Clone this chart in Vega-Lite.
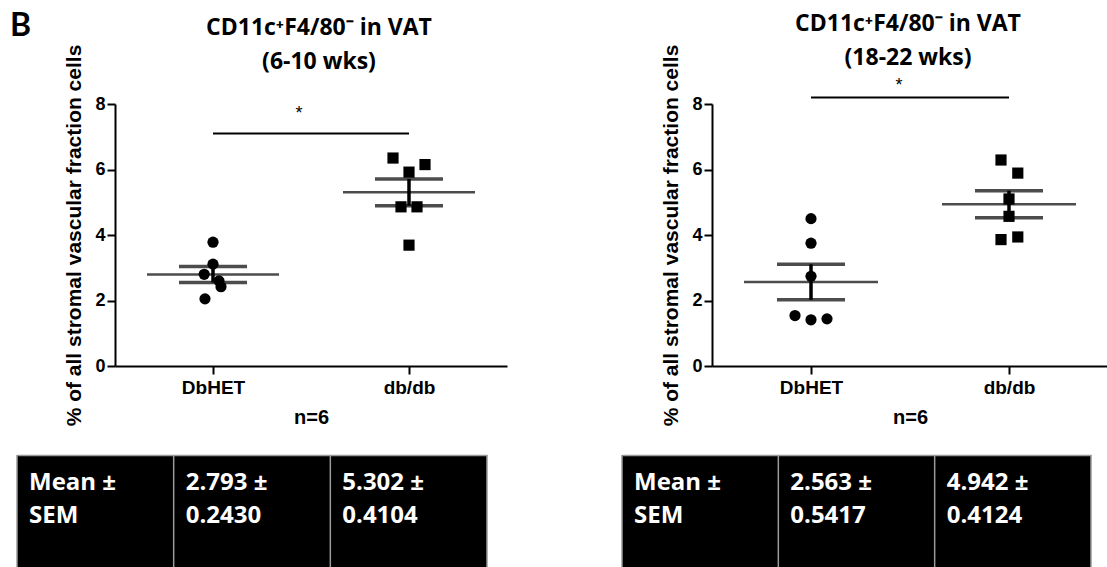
{
  "$schema": "https://vega.github.io/schema/vega-lite/v6.json",
  "background": "white",
  "padding": {"left": 10, "top": 10, "right": 0, "bottom": 0},
  "datasets": {
    "pts": [
      {"panel": "early", "group": "DbHET", "value": 3.78, "jit": 0},
      {"panel": "early", "group": "DbHET", "value": 3.11, "jit": 0},
      {"panel": "early", "group": "DbHET", "value": 2.80, "jit": -1.1},
      {"panel": "early", "group": "DbHET", "value": 2.60, "jit": 0.75},
      {"panel": "early", "group": "DbHET", "value": 2.42, "jit": 1},
      {"panel": "early", "group": "DbHET", "value": 2.05, "jit": -1},
      {"panel": "early", "group": "db/db", "value": 6.35, "jit": -2},
      {"panel": "early", "group": "db/db", "value": 6.15, "jit": 2},
      {"panel": "early", "group": "db/db", "value": 5.92, "jit": 0},
      {"panel": "early", "group": "db/db", "value": 4.86, "jit": -1},
      {"panel": "early", "group": "db/db", "value": 4.86, "jit": 1},
      {"panel": "early", "group": "db/db", "value": 3.69, "jit": 0},
      {"panel": "late", "group": "DbHET", "value": 4.50, "jit": 0},
      {"panel": "late", "group": "DbHET", "value": 3.75, "jit": 0},
      {"panel": "late", "group": "DbHET", "value": 2.74, "jit": 0},
      {"panel": "late", "group": "DbHET", "value": 1.54, "jit": -2},
      {"panel": "late", "group": "DbHET", "value": 1.41, "jit": 0},
      {"panel": "late", "group": "DbHET", "value": 1.44, "jit": 2},
      {"panel": "late", "group": "db/db", "value": 6.29, "jit": -1},
      {"panel": "late", "group": "db/db", "value": 5.89, "jit": 1.1},
      {"panel": "late", "group": "db/db", "value": 5.10, "jit": 0},
      {"panel": "late", "group": "db/db", "value": 4.57, "jit": 0},
      {"panel": "late", "group": "db/db", "value": 3.86, "jit": -1},
      {"panel": "late", "group": "db/db", "value": 3.94, "jit": 1.1}
    ],
    "sum": [
      {"panel": "early", "group": "DbHET", "mean": 2.793, "sem": 0.2430},
      {"panel": "early", "group": "db/db", "mean": 5.302, "sem": 0.4104},
      {"panel": "late", "group": "DbHET", "mean": 2.563, "sem": 0.5417},
      {"panel": "late", "group": "db/db", "mean": 4.942, "sem": 0.4124}
    ],
    "sig": [
      {"panel": "early", "group": "DbHET", "to": "db/db", "y": 7.1, "star": 7.7, "label": "*"},
      {"panel": "late", "group": "DbHET", "to": "db/db", "y": 8.2, "star": 8.55, "label": "*"}
    ],
    "tbl": [
      {"t": "early", "col": "c1", "text": "Mean  ±\nSEM"},
      {"t": "early", "col": "c2", "text": "2.793 ±\n0.2430"},
      {"t": "early", "col": "c3", "text": "5.302 ±\n0.4104"},
      {"t": "late", "col": "c1", "text": "Mean ±\nSEM"},
      {"t": "late", "col": "c2", "text": "2.563 ±\n0.5417"},
      {"t": "late", "col": "c3", "text": "4.942 ±\n0.4124"}
    ]
  },
  "config": {
    "view": {"stroke": null},
    "title": {"font": "Open Sans", "fontSize": 23, "fontWeight": "bold", "color": "black", "lineHeight": 34, "anchor": "middle"},
    "axis": {
      "grid": false,
      "domainColor": "black", "domainWidth": 2,
      "tickColor": "black", "tickWidth": 2, "tickSize": 8,
      "labelFont": "Liberation Sans", "labelFontWeight": "bold", "labelColor": "black",
      "titleFont": "Liberation Sans", "titleFontWeight": "bold", "titleColor": "black"
    },
    "axisY": {"labelFontSize": 18, "labelPadding": 2, "titleFontSize": 21, "titlePadding": 10, "tickCount": 5},
    "axisX": {"labelFontSize": 19, "labelPadding": 4, "titleFontSize": 20, "titlePadding": 10, "labelAngle": 0}
  },
  "spacing": 27,
  "vconcat": [
    {
      "spacing": 31,
      "hconcat": [
        {
          "width": 14, "height": 14,
          "data": {"values": [{"label": "B"}]},
          "mark": {"type": "text", "align": "left", "baseline": "top", "dx": -14, "dy": -100, "font": "Lato", "fontSize": 32, "fontWeight": "bold", "color": "black"},
          "encoding": {"text": {"field": "label"}}
        },
        {
          "spacing": 153,
          "hconcat": [
            {
              "width": 392, "height": 262,
              "title": {"text": ["CD11c⁺F4/80⁻ in VAT", "(6-10 wks)"], "offset": -30, "dx": 8},
              "encoding": {
                "x": {"field": "group", "type": "nominal", "scale": {"type": "point", "padding": 0.5, "domain": ["DbHET", "db/db"]}, "title": "n=6"}
              },
              "layer": [
                {
                  "data": {"name": "pts"},
                  "transform": [{"filter": "datum.panel === 'early'"}],
                  "mark": {"type": "point", "filled": true, "size": 125, "opacity": 1, "color": "black"},
                  "encoding": {
                    "xOffset": {"field": "jit", "type": "quantitative", "scale": {"domain": [-2, 2], "range": [-16, 16]}},
                    "y": {"field": "value", "type": "quantitative", "scale": {"domain": [0, 8], "nice": false}, "title": "% of all stromal vascular fraction cells"},
                    "shape": {"field": "group", "type": "nominal", "scale": {"domain": ["DbHET", "db/db"], "range": ["circle", "square"]}, "legend": null}
                  }
                },
                {
                  "data": {"name": "sum"},
                  "transform": [{"filter": "datum.panel === 'early'"}],
                  "mark": {"type": "tick", "size": 132, "thickness": 2.5, "color": "black"},
                  "encoding": {
                    "y": {"field": "mean", "type": "quantitative", "title": "% of all stromal vascular fraction cells"}
                  }
                },
                {
                  "data": {"name": "sum"},
                  "transform": [{"filter": "datum.panel === 'early'"}],
                  "mark": {"type": "errorbar", "thickness": 3.5, "color": "black", "ticks": {"size": 68, "thickness": 3.5, "color": "black"}},
                  "encoding": {
                    "y": {"field": "mean", "type": "quantitative", "title": "% of all stromal vascular fraction cells"},
                    "yError": {"field": "sem"}
                  }
                },
                {
                  "data": {"name": "sig"},
                  "transform": [{"filter": "datum.panel === 'early'"}],
                  "mark": {"type": "rule", "strokeWidth": 2, "color": "black"},
                  "encoding": {
                    "x2": {"field": "to"},
                    "y": {"field": "y", "type": "quantitative", "title": "% of all stromal vascular fraction cells"}
                  }
                },
                {
                  "data": {"name": "sig"},
                  "transform": [{"filter": "datum.panel === 'early'"}],
                  "mark": {"type": "text", "dx": 86, "fontSize": 18, "font": "Liberation Sans", "baseline": "middle", "color": "black"},
                  "encoding": {
                    "y": {"field": "star", "type": "quantitative", "title": "% of all stromal vascular fraction cells"},
                    "text": {"field": "label"}
                  }
                }
              ]
            },
            {
              "width": 396, "height": 262,
              "title": {"text": ["CD11c⁺F4/80⁻ in VAT", "(18-22 wks)"], "offset": -26, "dx": -2},
              "encoding": {
                "x": {"field": "group", "type": "nominal", "scale": {"type": "point", "padding": 0.5, "domain": ["DbHET", "db/db"]}, "title": "n=6"}
              },
              "layer": [
                {
                  "data": {"name": "pts"},
                  "transform": [{"filter": "datum.panel === 'late'"}],
                  "mark": {"type": "point", "filled": true, "size": 125, "opacity": 1, "color": "black"},
                  "encoding": {
                    "xOffset": {"field": "jit", "type": "quantitative", "scale": {"domain": [-2, 2], "range": [-16, 16]}},
                    "y": {"field": "value", "type": "quantitative", "scale": {"domain": [0, 8], "nice": false}, "title": "% of all stromal vascular fraction cells"},
                    "shape": {"field": "group", "type": "nominal", "scale": {"domain": ["DbHET", "db/db"], "range": ["circle", "square"]}, "legend": null}
                  }
                },
                {
                  "data": {"name": "sum"},
                  "transform": [{"filter": "datum.panel === 'late'"}],
                  "mark": {"type": "tick", "size": 134, "thickness": 2.5, "color": "black"},
                  "encoding": {
                    "y": {"field": "mean", "type": "quantitative", "title": "% of all stromal vascular fraction cells"}
                  }
                },
                {
                  "data": {"name": "sum"},
                  "transform": [{"filter": "datum.panel === 'late'"}],
                  "mark": {"type": "errorbar", "thickness": 3.5, "color": "black", "ticks": {"size": 68, "thickness": 3.5, "color": "black"}},
                  "encoding": {
                    "y": {"field": "mean", "type": "quantitative", "title": "% of all stromal vascular fraction cells"},
                    "yError": {"field": "sem"}
                  }
                },
                {
                  "data": {"name": "sig"},
                  "transform": [{"filter": "datum.panel === 'late'"}],
                  "mark": {"type": "rule", "strokeWidth": 2, "color": "black"},
                  "encoding": {
                    "x2": {"field": "to"},
                    "y": {"field": "y", "type": "quantitative", "title": "% of all stromal vascular fraction cells"}
                  }
                },
                {
                  "data": {"name": "sig"},
                  "transform": [{"filter": "datum.panel === 'late'"}],
                  "mark": {"type": "text", "dx": 88, "fontSize": 18, "font": "Liberation Sans", "baseline": "middle", "color": "black"},
                  "encoding": {
                    "y": {"field": "star", "type": "quantitative", "title": "% of all stromal vascular fraction cells"},
                    "text": {"field": "label"}
                  }
                }
              ]
            }
          ]
        }
      ]
    },
    {
      "spacing": 133,
      "hconcat": [
        {
          "width": 470, "height": 112,
          "view": {"fill": "black", "stroke": null},
          "data": {"name": "tbl"},
          "transform": [{"filter": "datum.t === 'early'"}],
          "encoding": {
            "x": {"field": "col", "type": "nominal", "scale": {"type": "band", "paddingInner": 0, "paddingOuter": 0, "domain": ["c1", "c2", "c3"]}, "axis": {"orient": "top", "labels": false, "ticks": false, "title": null, "domainColor": "#9a9a9a", "domainWidth": 1.5}, "bandPosition": 0}
          },
          "layer": [
            {"mark": {"type": "rule", "color": "#9a9a9a", "strokeWidth": 1.5}},
            {"transform": [{"filter": "datum.col === 'c3'"}], "mark": {"type": "rule", "color": "#9a9a9a", "strokeWidth": 1.5}, "encoding": {"x": {"field": "col", "type": "nominal", "bandPosition": 1, "scale": {"type": "band", "paddingInner": 0, "paddingOuter": 0, "domain": ["c1", "c2", "c3"]}, "axis": {"orient": "top", "labels": false, "ticks": false, "title": null, "domainColor": "#9a9a9a", "domainWidth": 1.5}}}},
            {"mark": {"type": "text", "align": "left", "baseline": "alphabetic", "dx": 12, "dy": -21, "lineBreak": "\n", "lineHeight": 33, "font": "Open Sans", "fontSize": 24, "fontWeight": "bold", "color": "white"}, "encoding": {"text": {"field": "text"}}}
          ]
        },
        {
          "width": 469, "height": 112,
          "view": {"fill": "black", "stroke": null},
          "data": {"name": "tbl"},
          "transform": [{"filter": "datum.t === 'late'"}],
          "encoding": {
            "x": {"field": "col", "type": "nominal", "scale": {"type": "band", "paddingInner": 0, "paddingOuter": 0, "domain": ["c1", "c2", "c3"]}, "axis": {"orient": "top", "labels": false, "ticks": false, "title": null, "domainColor": "#9a9a9a", "domainWidth": 1.5}, "bandPosition": 0}
          },
          "layer": [
            {"mark": {"type": "rule", "color": "#9a9a9a", "strokeWidth": 1.5}},
            {"transform": [{"filter": "datum.col === 'c3'"}], "mark": {"type": "rule", "color": "#9a9a9a", "strokeWidth": 1.5}, "encoding": {"x": {"field": "col", "type": "nominal", "bandPosition": 1, "scale": {"type": "band", "paddingInner": 0, "paddingOuter": 0, "domain": ["c1", "c2", "c3"]}, "axis": {"orient": "top", "labels": false, "ticks": false, "title": null, "domainColor": "#9a9a9a", "domainWidth": 1.5}}}},
            {"mark": {"type": "text", "align": "left", "baseline": "alphabetic", "dx": 12, "dy": -21, "lineBreak": "\n", "lineHeight": 33, "font": "Open Sans", "fontSize": 24, "fontWeight": "bold", "color": "white"}, "encoding": {"text": {"field": "text"}}}
          ]
        }
      ]
    }
  ]
}
